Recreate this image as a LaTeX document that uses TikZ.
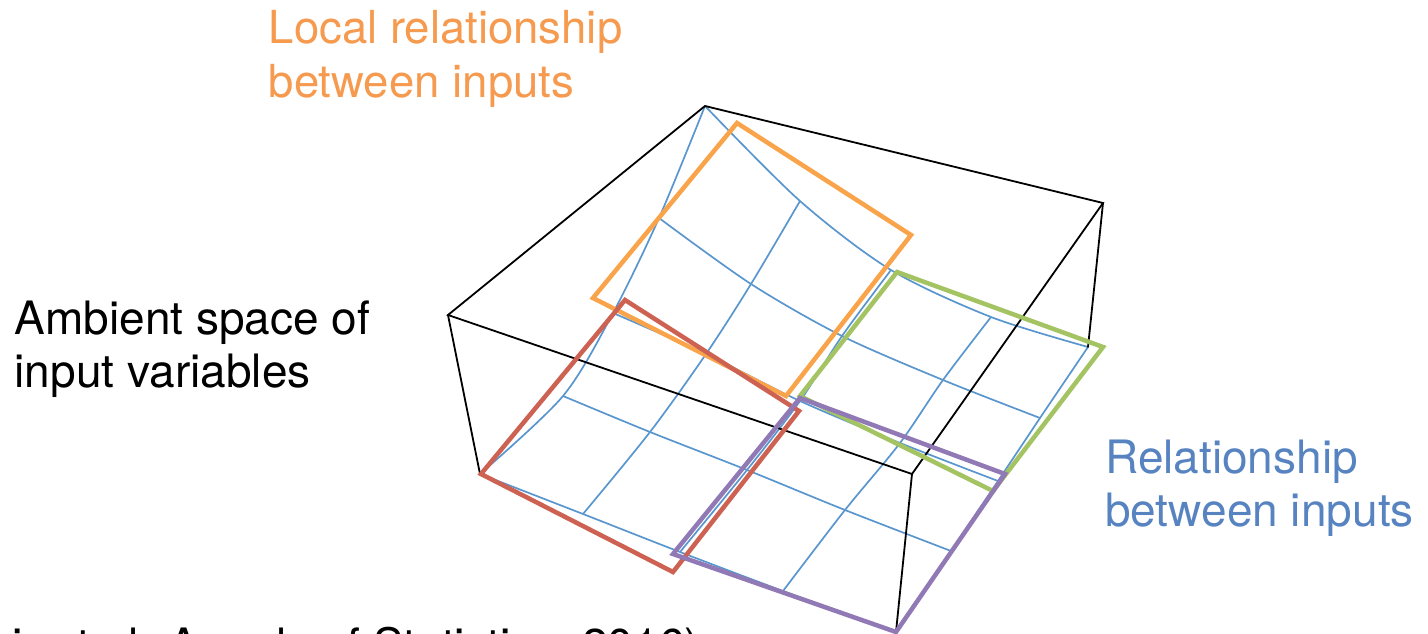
\documentclass[tikz,border=0pt]{standalone}
\usepackage{fontspec}
\setmainfont{TeX Gyre Heros}
\definecolor{gridblue}{HTML}{5A96CE}
\definecolor{txtblue}{HTML}{5784C1}
\definecolor{txtorange}{HTML}{F59A4E}
\definecolor{framorange}{HTML}{F9A44A}
\definecolor{framred}{HTML}{CD6152}
\definecolor{framgreen}{HTML}{A4C463}
\definecolor{frampurple}{HTML}{9079B5}
\begin{document}
\begin{tikzpicture}[x=1pt,y=-1pt,
  gridline/.style={draw=gridblue, line width=1.7pt, line join=round},
  boxline/.style={draw=black, line width=1.8pt, line cap=round},
  frameline/.style={line width=4.5pt, line join=miter},
  lbl/.style={anchor=base west, inner sep=0pt}]
\useasboundingbox (0,0) rectangle (1428,634);

% box / surface corners
\coordinate (A) at (705,106);
\coordinate (B) at (1103,203);
\coordinate (C) at (448,315);
\coordinate (D) at (912,474);
\coordinate (E) at (480,474);
\coordinate (F) at (896,632);
\coordinate (G) at (1088,347);

% surface grid points
\coordinate (p01) at (800,201);
\coordinate (p02) at (891,270);
\coordinate (p03) at (991,317);
\coordinate (p10) at (659,218);
\coordinate (p11) at (751,284);
\coordinate (p12) at (842,336);
\coordinate (p13) at (943,380);
\coordinate (p14) at (1040,418);
\coordinate (p20) at (613,313);
\coordinate (p21) at (706,354);
\coordinate (p22) at (800,401);
\coordinate (p23) at (900,443);
\coordinate (p24) at (998,481);
\coordinate (p30) at (563,396);
\coordinate (p31) at (650,432);
\coordinate (p32) at (747,470);
\coordinate (p33) at (845,510);
\coordinate (p34) at (951,551);
\coordinate (p41) at (583,514);
\coordinate (p42) at (680,552);
\coordinate (p43) at (783,591);

% surface grid (rows)
\draw[gridline] plot[smooth] coordinates {(A) (p01) (p02) (p03) (G)};
\draw[gridline] plot[smooth] coordinates {(p10) (p11) (p12) (p13) (p14)};
\draw[gridline] plot[smooth] coordinates {(p20) (p21) (p22) (p23) (p24)};
\draw[gridline] plot[smooth] coordinates {(p30) (p31) (p32) (p33) (p34)};
\draw[gridline] plot[smooth] coordinates {(E) (p41) (p42) (p43) (F)};
% surface grid (columns)
\draw[gridline] plot[smooth] coordinates {(A) (p10) (p20) (p30) (E)};
\draw[gridline] plot[smooth] coordinates {(p01) (p11) (p21) (p31) (p41)};
\draw[gridline] plot[smooth] coordinates {(p02) (p12) (p22) (p32) (p42)};
\draw[gridline] plot[smooth] coordinates {(p03) (p13) (p23) (p33) (p43)};
\draw[gridline] plot[smooth] coordinates {(G) (p14) (p24) (p34) (F)};

% bounding box of the ambient space
\draw[boxline] (C) -- (A) -- (B) -- (D) -- cycle;
\draw[boxline] (C) -- (E);
\draw[boxline] (D) -- (F);
\draw[boxline] (B) -- (G);

% local patches
\draw[frameline, framorange] (737,123) -- (911,235) -- (786,396) -- (593,298) -- cycle;
\draw[frameline, framred] (625,300) -- (799,411) -- (673,572) -- (481,474) -- cycle;
\draw[frameline, framgreen] (897,272) -- (1103,347) -- (993,491) -- (800,396) -- cycle;
\draw[frameline, frampurple] (800,398) -- (1005,474) -- (896,632) -- (673,554) -- cycle;

% labels
\node[lbl, text=txtorange, font=\fontsize{45.5}{54}\selectfont] (loc1) at (268.5,44) {Local relationship};
\node[lbl, text=txtorange, font=\fontsize{45.5}{54}\selectfont] (loc2) at (268.5,97) {between inputs};
\node[lbl, text=black, font=\fontsize{46}{55}\selectfont] (amb1) at (14.5,334) {Ambient space of};
\node[lbl, text=black, font=\fontsize{46}{55}\selectfont] (amb2) at (14.5,387) {input variables};
\node[lbl, text=txtblue, font=\fontsize{46}{55}\selectfont] (rel1) at (1105,473) {Relationship};
\node[lbl, text=txtblue, font=\fontsize{46}{55}\selectfont] (rel2) at (1105,526.5) {between inputs};
\node[lbl, text=black, font=\fontsize{46}{55}\selectfont] (cite) at (12,661) {i\hspace{30pt}et al. Annals of Statistics, 2016)};
\end{tikzpicture}
\end{document}
